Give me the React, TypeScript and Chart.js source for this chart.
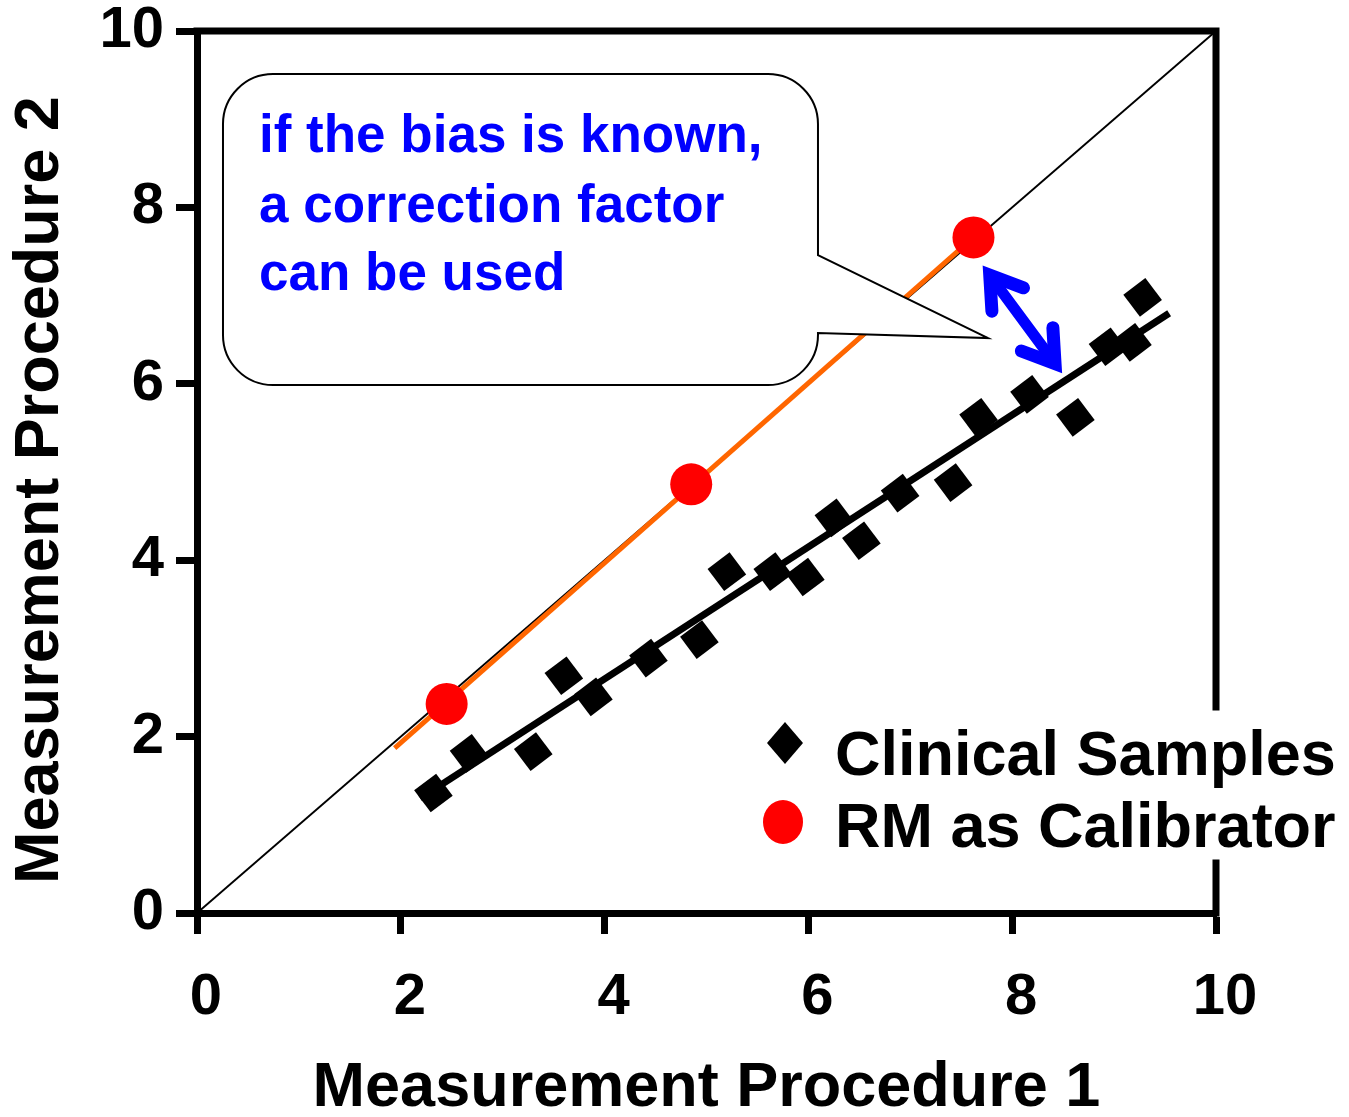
import React, { useEffect, useRef } from 'react';
import { Chart, registerables } from 'chart.js';

Chart.register(...registerables);

const FONT = "'Liberation Sans', Arial, Helvetica, sans-serif";

// ---- data ----
const xTicks = [0, 2, 4, 6, 8, 10];
const yTicks = [0, 2, 4, 6, 8, 10];

const clinicalX = [2.32, 2.67, 3.3, 3.6, 3.89, 4.43, 4.93, 5.2, 5.65, 5.97, 6.25, 6.52, 6.9, 7.42, 7.67, 8.17, 8.62, 8.94, 9.18, 9.28];
const clinicalY = [1.36, 1.81, 1.83, 2.69, 2.45, 2.89, 3.1, 3.87, 3.87, 3.81, 4.48, 4.22, 4.76, 4.88, 5.62, 5.88, 5.62, 6.42, 6.47, 6.98];

const rmX = [2.45, 4.85, 7.62];
const rmY = [2.37, 4.86, 7.66];

const identityX = [0, 10];
const identityY = [0, 10];

const calibLineX = [1.94, 7.62];
const calibLineY = [1.87, 7.66];

const regressionX = [2.19, 9.54];
const regressionY = [1.3, 6.8];

const seriesLabels = ['Clinical Samples', 'RM as Calibrator'];
const xTitle = 'Measurement Procedure 1';
const yTitle = 'Measurement Procedure 2';
const calloutLines = ['if the bias is known,', 'a correction factor', 'can be used'];

// annotation anchors (data units)
const calloutBoxX = [0.255, 6.094];
const calloutBoxY = [5.986, 9.512];
const calloutPointerY = [7.46, 6.576];
const calloutTip = [7.763, 6.519];
const arrowEnds = [
  [7.71, 7.34],
  [8.49, 6.12],
];

const toPts = (xs: number[], ys: number[]) => xs.map((x, i) => ({ x, y: ys[i] }));

const calloutPlugin = {
  id: 'callout',
  afterDatasetsDraw(chart: any) {
    const { ctx, scales } = chart;
    const xs = scales.x;
    const ys = scales.y;
    const L = xs.getPixelForValue(calloutBoxX[0]);
    const R = xs.getPixelForValue(calloutBoxX[1]);
    const T = ys.getPixelForValue(calloutBoxY[1]);
    const B = ys.getPixelForValue(calloutBoxY[0]);
    const pTop = ys.getPixelForValue(calloutPointerY[0]);
    const pBot = ys.getPixelForValue(calloutPointerY[1]);
    const tipX = xs.getPixelForValue(calloutTip[0]);
    const tipY = ys.getPixelForValue(calloutTip[1]);
    const r = 50;
    ctx.save();
    ctx.beginPath();
    ctx.moveTo(L + r, T);
    ctx.lineTo(R - r, T);
    ctx.arcTo(R, T, R, T + r, r);
    ctx.lineTo(R, pTop);
    ctx.lineTo(tipX, tipY);
    ctx.lineTo(R, pBot);
    ctx.arcTo(R, B, R - r, B, r);
    ctx.lineTo(L + r, B);
    ctx.arcTo(L, B, L, B - r, r);
    ctx.lineTo(L, T + r);
    ctx.arcTo(L, T, L + r, T, r);
    ctx.closePath();
    ctx.fillStyle = '#FFFFFF';
    ctx.fill();
    ctx.lineWidth = 2;
    ctx.strokeStyle = '#000000';
    ctx.lineJoin = 'miter';
    ctx.stroke();

    ctx.fillStyle = '#0000FF';
    ctx.font = `bold 53px ${FONT}`;
    ctx.textAlign = 'left';
    ctx.textBaseline = 'alphabetic';
    const offs = [78, 148, 216];
    calloutLines.forEach((t, i) => ctx.fillText(t, L + 36, T + offs[i]));

    // double-headed arrow
    const p1 = [xs.getPixelForValue(arrowEnds[0][0]), ys.getPixelForValue(arrowEnds[0][1])];
    const p2 = [xs.getPixelForValue(arrowEnds[1][0]), ys.getPixelForValue(arrowEnds[1][1])];
    const dx = p1[0] - p2[0];
    const dy = p1[1] - p2[1];
    const len = Math.hypot(dx, dy);
    const u = [dx / len, dy / len]; // toward p1
    const half = (33 * Math.PI) / 180;
    const armW = 13;
    const setback = armW / 2 / Math.sin(half);
    const armLen = 36;
    ctx.strokeStyle = '#0000FF';
    ctx.lineCap = 'round';
    const a = [p1[0] - u[0] * setback, p1[1] - u[1] * setback];
    const b = [p2[0] + u[0] * setback, p2[1] + u[1] * setback];
    ctx.lineWidth = 11;
    ctx.beginPath();
    ctx.moveTo(a[0], a[1]);
    ctx.lineTo(b[0], b[1]);
    ctx.stroke();
    const head = (tip: number[], dir: number[]) => {
      const back = [-dir[0], -dir[1]];
      const rot = (v: number[], ang: number) => [
        v[0] * Math.cos(ang) - v[1] * Math.sin(ang),
        v[0] * Math.sin(ang) + v[1] * Math.cos(ang),
      ];
      const r1 = rot(back, half);
      const r2 = rot(back, -half);
      ctx.lineWidth = armW;
      ctx.lineJoin = 'miter';
      ctx.beginPath();
      ctx.moveTo(tip[0] + r1[0] * armLen, tip[1] + r1[1] * armLen);
      ctx.lineTo(tip[0], tip[1]);
      ctx.lineTo(tip[0] + r2[0] * armLen, tip[1] + r2[1] * armLen);
      ctx.stroke();
    };
    head(a, u);
    head(b, [-u[0], -u[1]]);
    ctx.restore();
  },
};

const framePlugin = {
  id: 'frame',
  afterDraw(chart: any) {
    const { ctx, chartArea: a } = chart;
    ctx.save();
    ctx.strokeStyle = '#000000';
    ctx.lineWidth = 7;
    ctx.lineCap = 'square';
    ctx.beginPath();
    ctx.moveTo(a.left, a.top);
    ctx.lineTo(a.right, a.top);
    ctx.lineTo(a.right, a.bottom - 206);
    ctx.moveTo(a.right, a.bottom - 50);
    ctx.lineTo(a.right, a.bottom);
    ctx.stroke();

    // y axis title
    ctx.fillStyle = '#000000';
    ctx.font = `bold 63px ${FONT}`;
    ctx.textAlign = 'center';
    ctx.textBaseline = 'middle';
    ctx.translate(41, (a.top + a.bottom) / 2 + 18);
    ctx.rotate(-Math.PI / 2);
    ctx.fillText(yTitle, 0, 0);
    ctx.restore();

    // inset legend
    const ds = chart.data.datasets;
    ctx.save();
    const mx = a.right - 431;
    const d1y = a.bottom - 170;
    ctx.fillStyle = ds[1].backgroundColor;
    ctx.beginPath();
    ctx.moveTo(mx, d1y - 21);
    ctx.lineTo(mx + 18, d1y);
    ctx.lineTo(mx, d1y + 21);
    ctx.lineTo(mx - 18, d1y);
    ctx.closePath();
    ctx.fill();
    const c2y = a.bottom - 91;
    ctx.fillStyle = ds[0].backgroundColor;
    ctx.beginPath();
    ctx.ellipse(mx - 2, c2y, 20, 22, 0, 0, Math.PI * 2);
    ctx.fill();
    ctx.fillStyle = '#000000';
    ctx.font = `bold 63px ${FONT}`;
    ctx.textAlign = 'left';
    ctx.textBaseline = 'alphabetic';
    ctx.fillText(ds[1].label, a.right - 381, a.bottom - 138);
    ctx.fillText(ds[0].label, a.right - 381, a.bottom - 66);
    ctx.restore();
  },
};

export default function App() {
  const ref = useRef<HTMLCanvasElement>(null);
  useEffect(() => {
    const canvas = ref.current;
    if (!canvas) return;
    const axisCommon = {
      type: 'linear' as const,
      min: 0,
      max: 10,
      grid: {
        display: true,
        drawOnChartArea: false,
        drawTicks: true,
        tickLength: 21,
        tickWidth: 7,
        tickColor: '#000000',
      },
      border: { display: true, width: 7, color: '#000000' },
    };
    const chart = new Chart(canvas, {
      type: 'scatter',
      data: {
        datasets: [
          {
            label: seriesLabels[1],
            data: toPts(rmX, rmY),
            pointStyle: 'circle',
            pointRadius: 21,
            pointHoverRadius: 21,
            backgroundColor: '#FF0000',
            borderColor: '#FF0000',
            borderWidth: 0,
            showLine: false,
          },
          {
            label: seriesLabels[0],
            data: toPts(clinicalX, clinicalY),
            pointStyle: 'rectRot',
            pointRadius: 19.5,
            pointHoverRadius: 19.5,
            pointRotation: 8,
            backgroundColor: '#000000',
            borderColor: '#000000',
            borderWidth: 0,
            showLine: false,
          },
          {
            label: 'Regression',
            data: toPts(regressionX, regressionY),
            showLine: true,
            borderColor: '#000000',
            backgroundColor: '#000000',
            borderWidth: 7,
            pointRadius: 0,
            pointHoverRadius: 0,
          },
          {
            label: 'Calibration line',
            data: toPts(calibLineX, calibLineY),
            showLine: true,
            borderColor: '#FF6600',
            backgroundColor: '#FF6600',
            borderWidth: 5,
            pointRadius: 0,
            pointHoverRadius: 0,
          },
          {
            label: 'Identity',
            data: toPts(identityX, identityY),
            showLine: true,
            borderColor: '#000000',
            backgroundColor: '#000000',
            borderWidth: 2,
            pointRadius: 0,
            pointHoverRadius: 0,
          },
        ],
      },
      options: {
        responsive: false,
        animation: false,
        devicePixelRatio: 1,
        layout: { padding: { left: 0, top: 31, right: 133, bottom: 0 } },
        plugins: {
          legend: { display: false },
          tooltip: { enabled: false },
        },
        scales: {
          x: {
            ...axisCommon,
            position: 'bottom',
            afterBuildTicks: (s: any) => {
              s.ticks = xTicks.map((v) => ({ value: v }));
            },
            afterFit: (s: any) => {
              s.height = 204;
            },
            ticks: {
              color: '#000000',
              font: { family: FONT, size: 58, weight: 'bold', lineHeight: 1 },
              padding: 35,
              labelOffset: 9,
              maxRotation: 0,
            },
            title: {
              display: true,
              text: xTitle,
              color: '#000000',
              font: { family: FONT, size: 63, weight: 'bold', lineHeight: 0.9 },
              padding: { top: 0, bottom: 0 },
            },
          },
          y: {
            ...axisCommon,
            position: 'left',
            afterBuildTicks: (s: any) => {
              s.ticks = yTicks.map((v) => ({ value: v }));
            },
            afterFit: (s: any) => {
              s.width = 197;
              s.paddingTop = 0;
              s.paddingBottom = 0;
            },
            ticks: {
              color: '#000000',
              font: { family: FONT, size: 58, weight: 'bold', lineHeight: 0.5 },
              padding: 12,
            },
            title: { display: false },
          },
        },
      },
      plugins: [calloutPlugin, framePlugin],
    } as any);
    return () => chart.destroy();
  }, []);

  return (
    <div style={{ position: 'absolute', left: 0, top: 0, width: 1349, height: 1117, background: '#ffffff' }}>
      <canvas ref={ref} width={1349} height={1117} style={{ display: 'block', width: 1349, height: 1117 }} />
    </div>
  );
}
